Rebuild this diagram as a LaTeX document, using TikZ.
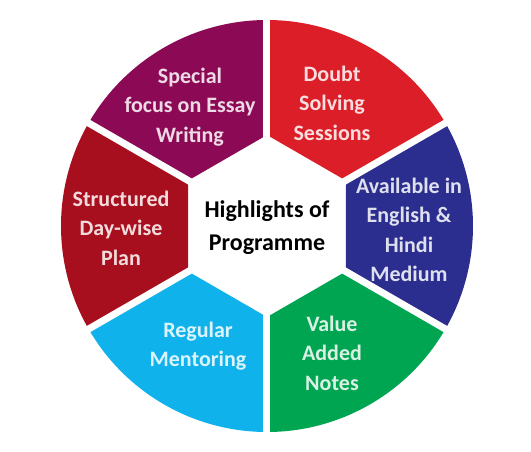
\documentclass[tikz,border=0pt]{standalone}
\usepackage{fontspec}
\setmainfont{Carlito}
\usepackage{tikz}
\usetikzlibrary{positioning}
\definecolor{SecPurple}{HTML}{8C0A55}
\definecolor{SecRed}{HTML}{DC1E28}
\definecolor{SecBlue}{HTML}{2B2E8E}
\definecolor{SecGreen}{HTML}{00A551}
\definecolor{SecCyan}{HTML}{10B2EC}
\definecolor{SecDark}{HTML}{A80F1E}
\newcommand\Rin{91}
\newcommand\Rout{206}

\begin{document}
\begin{tikzpicture}[x=1pt, y=1pt,
    sectext/.style={align=center, font=\fontsize{22}{29.5}\selectfont\bfseries},
    hubtext/.style={align=center, font=\fontsize{24}{33}\selectfont\bfseries, text=black}]
                \useasboundingbox (-267,-225) rectangle (264,226);
                % sectors, counter-clockwise from the right
                \foreach \a/\Clr/\px/\py/\Txt/\nm in {
                    -30/SecBlue/142/-4/{Available in\\English \&\\Hindi\\Medium}/medium,
                    30/SecRed/65/123/{Doubt\\Solving\\Sessions}/doubt,
                    90/SecPurple/-77/119/{Special\\focus on Essay\\Writing}/essay,
                    150/SecDark/-146/-2/{Structured\\Day-wise\\Plan}/plan,
                    210/SecCyan/-69/-120/{Regular\\Mentoring}/mentor,
                    270/SecGreen/65/-127/{Value\\Added\\Notes}/notes}{
                  \fill[\Clr] (\a:\Rin) -- (\a:\Rout) arc[start angle=\a, end angle=\a+60, radius=\Rout] -- ({\a+60}:\Rin) -- cycle;
                  \node[sectext, text=white!85!\Clr] (\nm) at (\px,\py) {\Txt};
                }
                % white gaps between the sectors
                \foreach \a in {30,90,...,330}{
                  \draw[white, line width=7pt] (\a:80) -- (\a:215);
                }
                \node[hubtext] (hub) at (0,-2) {Highlights of\\Programme};
            \end{tikzpicture}
\end{document}
